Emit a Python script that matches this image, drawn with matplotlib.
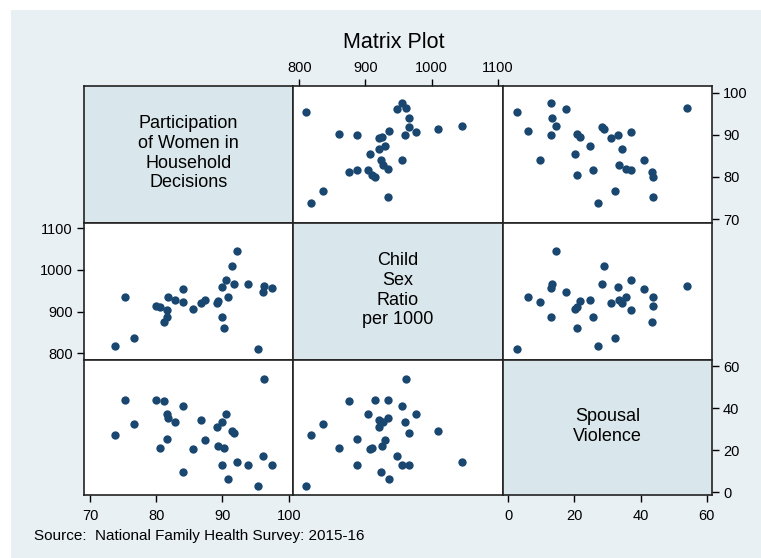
import matplotlib.pyplot as plt
from matplotlib.patches import Rectangle

plt.rcParams["font.family"] = ["Liberation Sans", "DejaVu Sans"]

# -----------------------------
# Data (one row per state)
# -----------------------------
participation = [73.8, 75.3, 76.7, 79.9, 80.5, 81.2, 81.7, 81.8, 81.7, 82.9,
                 84.1, 84.1, 85.5, 86.7, 87.4, 89.2, 89.4, 90.0, 89.9, 90.3,
                 90.6, 90.9, 91.5, 91.8, 92.2, 93.9, 95.4, 96.1, 96.3, 97.5]
sex_ratio = [817, 934, 836, 914, 910, 875, 904, 934, 887, 927,
             955, 923, 907, 920, 929, 921, 925, 960, 888, 860,
             977, 936, 1009, 966, 1046, 966, 810, 947, 962, 956]
violence = [27.1, 43.7, 32.4, 43.7, 20.8, 43.6, 37.1, 35.5, 25.5, 33.4,
            41.1, 9.5, 20.3, 34.5, 24.8, 31.0, 21.8, 33.2, 12.9, 20.8,
            37.1, 6.0, 29.0, 28.2, 14.4, 13.1, 2.7, 17.3, 53.9, 12.9]

variables = [participation, sex_ratio, violence]
var_labels = ["Participation\nof Women in\nHousehold\nDecisions",
              "Child\nSex\nRatio\nper 1000",
              "Spousal\nViolence"]
limits = [(69.1, 100.65), (790.5, 1108), (-1.6, 61.6)]
row_limits = [(69.05, 101.6), (784, 1112.7), (-1.4, 62.9)]
ticks = [[70, 80, 90, 100], [800, 900, 1000, 1100], [0, 20, 40, 60]]

# -----------------------------
# Figure
# -----------------------------
W, H = 761, 558
fig = plt.figure(figsize=(W / 100, H / 100), dpi=100)
fig.patch.set_facecolor("white")
bg_color = "#e8f0f3"
diag_color = "#d9e6eb"
dot_color = "#1a476f"

bg = Rectangle((11 / W, 0), 1 - 11 / W, 1 - 10 / H,
               transform=fig.transFigure, facecolor=bg_color,
               edgecolor="none", zorder=-10)
fig.patches.append(bg)

col_edges = [84, 293, 503, 712]
row_edges = [86, 223, 360, 495]

axes = [[None] * 3 for _ in range(3)]
for i in range(3):
    for j in range(3):
        x0 = col_edges[j] / W
        w = (col_edges[j + 1] - col_edges[j]) / W
        y0 = 1 - row_edges[i + 1] / H
        h = (row_edges[i + 1] - row_edges[i]) / H
        ax = fig.add_axes([x0, y0, w, h])
        ax.set_xlim(limits[j])
        ax.set_ylim(row_limits[i])
        ax.set_xticks([])
        ax.set_yticks([])
        for s in ax.spines.values():
            s.set_linewidth(1.2)
            s.set_color("#222222")
        if i == j:
            ax.set_facecolor(diag_color)
            ax.text(0.5, 0.51, var_labels[i], transform=ax.transAxes,
                    ha="center", va="center", fontsize=13, linespacing=1.22)
        else:
            ax.set_facecolor("white")
            ax.scatter(variables[j], variables[i], s=36, color=dot_color,
                       linewidths=0, zorder=3)
        axes[i][j] = ax

tick_kw = dict(direction="out", length=5, width=1, labelsize=10.5, pad=3)

# top axis: child sex ratio
ax = axes[0][1]
ax.set_xticks(ticks[1])
ax.xaxis.tick_top()
ax.tick_params(axis="x", **tick_kw)

# right axis, row 1: participation
ax = axes[0][2]
ax.set_yticks(ticks[0])
ax.yaxis.tick_right()
ax.tick_params(axis="y", **tick_kw)

# left axis, row 2: child sex ratio
ax = axes[1][0]
ax.set_yticks(ticks[1])
ax.tick_params(axis="y", **tick_kw)

# right axis, row 3: spousal violence
ax = axes[2][2]
ax.set_yticks(ticks[2])
ax.yaxis.tick_right()
ax.tick_params(axis="y", **tick_kw)

# bottom axes
ax = axes[2][0]
ax.set_xticks(ticks[0])
ax.tick_params(axis="x", **tick_kw)
ax.tick_params(axis="x", pad=5)
ax = axes[2][2]
ax.set_xticks(ticks[2])
ax.tick_params(axis="x", **tick_kw)
ax.tick_params(axis="x", pad=5)

fig.text(394 / W, 1 - 42 / H, "Matrix Plot", ha="center", va="center",
         fontsize=15.5)
fig.text(34 / W, 1 - 536 / H, "Source:  National Family Health Survey: 2015-16",
         ha="left", va="center", fontsize=11)

fig.savefig("out.png", dpi=100)
